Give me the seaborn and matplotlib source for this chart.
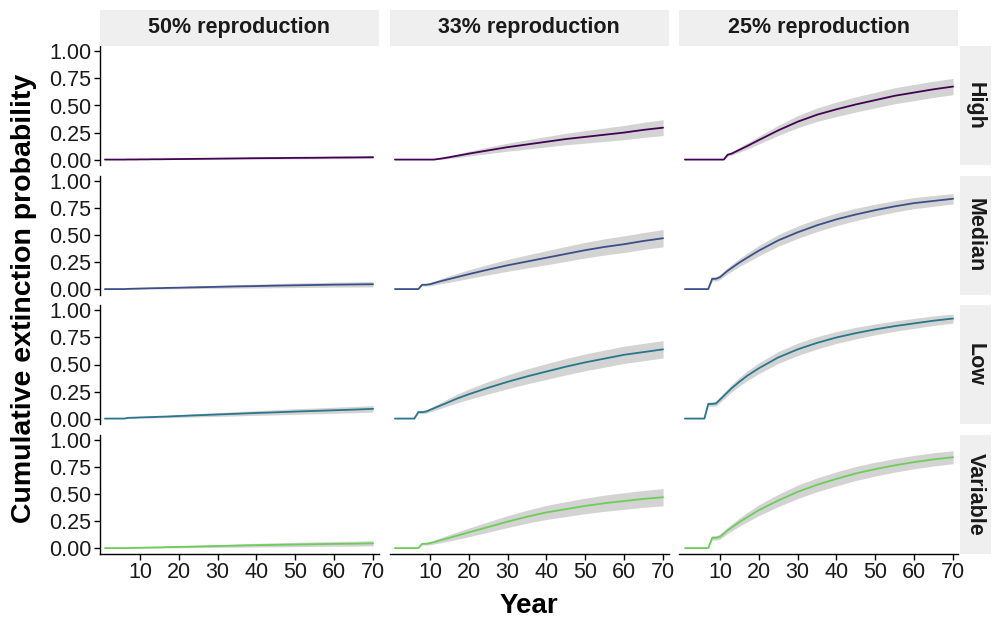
import matplotlib
matplotlib.use("Agg")
import matplotlib.pyplot as plt
import numpy as np
import pandas as pd
import seaborn as sns

# ---------------- data ----------------
years = [1, 6, 7, 8, 9, 10, 11, 12, 13, 15, 17, 20, 25, 30, 35, 40, 45, 50, 55, 60, 65, 70]
reproduction = ["50% reproduction", "33% reproduction", "25% reproduction"]
scenarios = ["High", "Median", "Low", "Variable"]
scenario_colors = ["#440154", "#3B4F8A", "#28778D", "#6DCD59"]
x_ticks = [10, 20, 30, 40, 50, 60, 70]
y_ticks = [0.0, 0.25, 0.5, 0.75, 1.0]
y_ticklabels = ["0.00", "0.25", "0.50", "0.75", "1.00"]

# mean cumulative extinction probability
high_50 = [0, 0, 0.001, 0.001, 0.001, 0.002, 0.002, 0.002, 0.003, 0.003, 0.004, 0.005, 0.007, 0.009, 0.011, 0.013, 0.014, 0.016, 0.017, 0.019, 0.020, 0.022]
high_33 = [0, 0, 0, 0, 0, 0, 0, 0.005, 0.01, 0.022, 0.035, 0.055, 0.085, 0.115, 0.14, 0.165, 0.19, 0.21, 0.23, 0.25, 0.275, 0.295]
high_25 = [0, 0, 0, 0, 0, 0, 0, 0.045, 0.055, 0.09, 0.125, 0.18, 0.27, 0.35, 0.415, 0.465, 0.51, 0.55, 0.59, 0.62, 0.65, 0.675]
median_50 = [0, 0, 0.002, 0.003, 0.004, 0.005, 0.006, 0.007, 0.008, 0.009, 0.011, 0.013, 0.017, 0.021, 0.025, 0.028, 0.032, 0.035, 0.038, 0.041, 0.043, 0.045]
median_33 = [0, 0, 0, 0.04, 0.04, 0.045, 0.055, 0.065, 0.075, 0.093, 0.111, 0.138, 0.18, 0.22, 0.255, 0.29, 0.325, 0.36, 0.39, 0.415, 0.445, 0.47]
median_25 = [0, 0, 0, 0.095, 0.095, 0.11, 0.14, 0.17, 0.195, 0.245, 0.29, 0.355, 0.45, 0.525, 0.59, 0.645, 0.69, 0.73, 0.765, 0.795, 0.815, 0.835]
low_50 = [0, 0, 0.007, 0.008, 0.009, 0.011, 0.012, 0.013, 0.014, 0.017, 0.019, 0.024, 0.031, 0.038, 0.045, 0.052, 0.058, 0.065, 0.071, 0.077, 0.083, 0.090]
low_33 = [0, 0, 0.06, 0.06, 0.065, 0.08, 0.095, 0.11, 0.125, 0.155, 0.185, 0.225, 0.285, 0.34, 0.39, 0.435, 0.48, 0.52, 0.555, 0.59, 0.615, 0.64]
low_25 = [0, 0, 0.135, 0.135, 0.14, 0.175, 0.21, 0.245, 0.28, 0.34, 0.395, 0.465, 0.565, 0.64, 0.70, 0.75, 0.79, 0.825, 0.855, 0.88, 0.905, 0.925]
variable_50 = [0, 0, 0, 0.002, 0.002, 0.003, 0.004, 0.005, 0.006, 0.007, 0.009, 0.011, 0.015, 0.019, 0.023, 0.027, 0.030, 0.033, 0.036, 0.039, 0.041, 0.044]
variable_33 = [0, 0, 0, 0.04, 0.04, 0.045, 0.055, 0.065, 0.075, 0.095, 0.115, 0.145, 0.195, 0.245, 0.29, 0.33, 0.36, 0.39, 0.415, 0.435, 0.455, 0.47]
variable_25 = [0, 0, 0, 0.095, 0.095, 0.105, 0.135, 0.165, 0.19, 0.24, 0.285, 0.35, 0.44, 0.52, 0.585, 0.64, 0.69, 0.73, 0.765, 0.795, 0.82, 0.84]

# half-width of the grey uncertainty ribbon
high_50_spread = [0, 0, 0.001, 0.001, 0.001, 0.002, 0.002, 0.002, 0.003, 0.003, 0.004, 0.004, 0.005, 0.006, 0.007, 0.008, 0.009, 0.010, 0.010, 0.011, 0.011, 0.012]
high_33_spread = [0, 0, 0, 0, 0, 0, 0, 0.004, 0.007, 0.012, 0.016, 0.022, 0.03, 0.037, 0.043, 0.048, 0.053, 0.058, 0.062, 0.066, 0.07, 0.073]
high_25_spread = [0, 0, 0, 0, 0, 0, 0, 0.012, 0.015, 0.022, 0.028, 0.036, 0.047, 0.056, 0.062, 0.067, 0.07, 0.072, 0.074, 0.075, 0.075, 0.075]
median_50_spread = [0, 0, 0.002, 0.003, 0.004, 0.005, 0.006, 0.006, 0.007, 0.008, 0.009, 0.010, 0.012, 0.014, 0.016, 0.018, 0.020, 0.021, 0.022, 0.023, 0.024, 0.025]
median_33_spread = [0, 0, 0, 0.01, 0.012, 0.015, 0.018, 0.021, 0.024, 0.03, 0.034, 0.04, 0.048, 0.055, 0.06, 0.065, 0.069, 0.072, 0.075, 0.077, 0.078, 0.08]
median_25_spread = [0, 0, 0, 0.02, 0.021, 0.023, 0.026, 0.029, 0.032, 0.037, 0.042, 0.048, 0.054, 0.057, 0.058, 0.058, 0.057, 0.055, 0.053, 0.051, 0.05, 0.048]
low_50_spread = [0, 0, 0.004, 0.005, 0.006, 0.007, 0.007, 0.008, 0.009, 0.010, 0.011, 0.013, 0.015, 0.018, 0.020, 0.022, 0.024, 0.026, 0.027, 0.028, 0.029, 0.030]
low_33_spread = [0, 0, 0.012, 0.014, 0.016, 0.019, 0.022, 0.025, 0.028, 0.034, 0.04, 0.048, 0.057, 0.064, 0.069, 0.073, 0.076, 0.078, 0.079, 0.08, 0.08, 0.08]
low_25_spread = [0, 0, 0.02, 0.021, 0.023, 0.026, 0.029, 0.032, 0.035, 0.04, 0.045, 0.05, 0.055, 0.057, 0.057, 0.055, 0.053, 0.05, 0.048, 0.046, 0.044, 0.042]
variable_50_spread = [0, 0, 0, 0.002, 0.003, 0.004, 0.005, 0.006, 0.006, 0.007, 0.008, 0.009, 0.011, 0.013, 0.015, 0.017, 0.019, 0.020, 0.021, 0.022, 0.023, 0.024]
variable_33_spread = [0, 0, 0, 0.01, 0.012, 0.015, 0.018, 0.021, 0.024, 0.03, 0.034, 0.04, 0.048, 0.055, 0.06, 0.065, 0.069, 0.072, 0.075, 0.077, 0.078, 0.08]
variable_25_spread = [0, 0, 0, 0.02, 0.021, 0.023, 0.026, 0.029, 0.032, 0.038, 0.043, 0.05, 0.057, 0.062, 0.064, 0.065, 0.065, 0.064, 0.063, 0.062, 0.061, 0.06]

means = {
    "High": [high_50, high_33, high_25],
    "Median": [median_50, median_33, median_25],
    "Low": [low_50, low_33, low_25],
    "Variable": [variable_50, variable_33, variable_25],
}
spreads = {
    "High": [high_50_spread, high_33_spread, high_25_spread],
    "Median": [median_50_spread, median_33_spread, median_25_spread],
    "Low": [low_50_spread, low_33_spread, low_25_spread],
    "Variable": [variable_50_spread, variable_33_spread, variable_25_spread],
}

rows = []
for s in scenarios:
    for j, r in enumerate(reproduction):
        for y, m, w in zip(years, means[s][j], spreads[s][j]):
            rows.append(dict(scenario=s, reproduction=r, year=y, p=m,
                             lo=max(m - w, 0), hi=m + w))
df = pd.DataFrame(rows)

# ---------------- style ----------------
sns.set_theme(style="ticks")
plt.rcParams["font.family"] = ["Liberation Sans", "DejaVu Sans"]

W, H = 995, 618
fig = plt.figure(figsize=(W / 100, H / 100), dpi=100)
fig.patch.set_facecolor("white")

col_left = [99.5, 389.5, 679.5]
panel_w = 279
row_top = [46, 175.5, 305, 434.5]
panel_h = 119
strip_col = "#EFEFEF"

def fx(px):
    return px / W

def fy(py):
    return 1 - py / H

for i, s in enumerate(scenarios):
    for j, r in enumerate(reproduction):
        ax = fig.add_axes([fx(col_left[j]), fy(row_top[i] + panel_h), panel_w / W, panel_h / H])
        sub = df[(df.scenario == s) & (df.reproduction == r)]
        ax.fill_between(sub.year, sub.lo, sub.hi, color="#D3D3D3", lw=0, zorder=1)
        sns.lineplot(data=sub, x="year", y="p", color=scenario_colors[i], lw=1.3,
                     ax=ax, zorder=2, legend=False)
        ax.set_xlim(-0.4, 71.4)
        ax.set_ylim(-0.05, 1.05)
        ax.set_xlabel("")
        ax.set_ylabel("")
        ax.set_facecolor("white")
        for sp in ["top", "right"]:
            ax.spines[sp].set_visible(False)
        ax.spines["left"].set_visible(j == 0)
        ax.spines["bottom"].set_visible(i == 3)
        ax.spines["left"].set_linewidth(1.0)
        ax.spines["bottom"].set_linewidth(1.0)
        ax.spines["left"].set_color("black")
        ax.spines["bottom"].set_color("black")
        ax.set_xticks(x_ticks)
        ax.set_yticks(y_ticks)
        ax.tick_params(axis="both", length=4, width=1.0, color="black",
                       labelsize=15.5, labelcolor="#1A1A1A", pad=2)
        if j == 0:
            ax.set_yticklabels(y_ticklabels)
        else:
            ax.tick_params(axis="y", left=False, labelleft=False)
        if i == 3:
            ax.set_xticklabels([str(t) for t in x_ticks])
        else:
            ax.tick_params(axis="x", bottom=False, labelbottom=False)

# top strips
for j, r in enumerate(reproduction):
    sax = fig.add_axes([fx(col_left[j]), fy(46), panel_w / W, 36 / H])
    sax.set_facecolor(strip_col)
    sax.set_xticks([]); sax.set_yticks([])
    for sp in sax.spines.values():
        sp.set_visible(False)
    sax.text(0.5, 0.5, r, ha="center", va="center", fontsize=15.5,
             fontweight="bold", color="#1A1A1A", transform=sax.transAxes)

# right strips
for i, s in enumerate(scenarios):
    sax = fig.add_axes([fx(960), fy(row_top[i] + panel_h), 31 / W, panel_h / H])
    sax.set_facecolor(strip_col)
    sax.set_xticks([]); sax.set_yticks([])
    for sp in sax.spines.values():
        sp.set_visible(False)
    sax.text(0.5, 0.5, s, ha="center", va="center", fontsize=15.5, rotation=-90,
             fontweight="bold", color="#1A1A1A", transform=sax.transAxes)

fig.text(fx(529), fy(606), "Year", ha="center", va="center",
         fontsize=20, fontweight="bold", color="black")
fig.text(fx(24), fy(298), "Cumulative extinction probability", ha="center",
         va="center", rotation=90, fontsize=20.5, fontweight="bold", color="black")

fig.savefig("out.png", dpi=100, facecolor="white")
